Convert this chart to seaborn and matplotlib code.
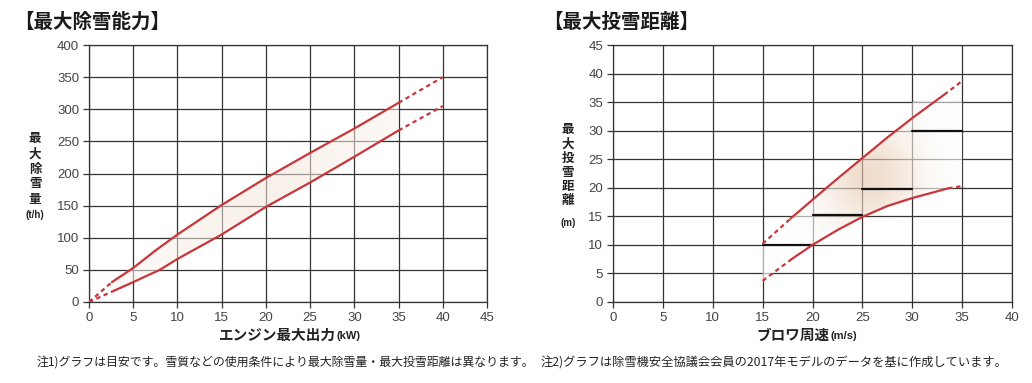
import numpy as np
import matplotlib
matplotlib.use("Agg")
import matplotlib.pyplot as plt
import seaborn as sns
from matplotlib.patches import Polygon

# ---------------- data ----------------
# left chart: max snow removal capacity (t/h) vs engine max output (kW)
power_upper = [0, 2.6, 5, 7.5, 10, 15, 20, 25, 30, 35, 40]
snow_upper = [0, 31, 53, 80, 105, 151, 193, 232, 270, 310, 350]
power_lower = [0, 2.9, 5, 8, 10, 15, 20, 25, 30, 35, 40]
snow_lower = [0, 18, 31, 50, 67, 105, 148, 186, 226, 267, 305]

# right chart: max throw distance (m) vs blower peripheral speed (m/s)
speed_upper = [15, 17.8, 20, 22.5, 25, 27.5, 30, 33.2, 35]
throw_upper = [10.2, 14.6, 17.9, 21.6, 25.2, 28.8, 32.2, 36.3, 38.7]
speed_lower = [15, 17.9, 20, 22.5, 25, 27.5, 30, 33.6, 35]
throw_lower = [3.7, 7.5, 10.0, 12.6, 14.9, 16.8, 18.2, 19.9, 20.3]

step_start = [15, 20, 25, 30]
step_end = [20, 25, 30, 35]
step_level = [10, 15.2, 19.8, 30]

left_xticks = list(range(0, 50, 5))
left_yticks = list(range(0, 450, 50))
right_xticks = list(range(0, 45, 5))
right_yticks = list(range(0, 50, 5))

left_title = "【最大除雪能力】"
right_title = "【最大投雪距離】"
left_ylabel = ["最", "大", "除", "雪", "量"]
left_yunit = "(t/h)"
right_ylabel = ["最", "大", "投", "雪", "距", "離"]
right_yunit = "(m)"
left_xlabel = ("エンジン最大出力", "(kW)")
right_xlabel = ("ブロワ周速", "(m/s)")
note1 = "注1)グラフは目安です。雪質などの使用条件により最大除雪量・最大投雪距離は異なります。"
note2 = "注2)グラフは除雪機安全協議会会員の2017年モデルのデータを基に作成しています。"

# ---------------- style ----------------
sns.set_theme(style="ticks")
CJK = ["Noto Sans CJK JP", "DejaVu Sans"]
NUM = ["Liberation Sans", "DejaVu Sans"]
plt.rcParams["font.family"] = NUM
RED = "#c8363b"
GRID = "#333333"
TICKC = "#444444"
PEACH = np.array([228, 194, 165]) / 255.0

W, H = 1032, 383
fig = plt.figure(figsize=(W / 100, H / 100), dpi=100)
fig.patch.set_facecolor("white")


def px(x, y):
    return x / W, 1 - y / H


def make_axes(left, right, top, bottom):
    l, b = left / W, 1 - bottom / H
    return fig.add_axes([l, b, (right - left) / W, (bottom - top) / H])


def style_axes(ax, xticks, yticks):
    ax.set_xlim(xticks[0], xticks[-1])
    ax.set_ylim(yticks[0], yticks[-1])
    ax.set_xticks(xticks)
    ax.set_yticks(yticks)
    ax.set_axisbelow(True)
    ax.grid(True, color=GRID, lw=0.9)
    for s in ax.spines.values():
        s.set_color(GRID)
        s.set_linewidth(0.9)
        s.set_visible(True)
    ax.tick_params(direction="out", length=4, width=0.9, color=GRID,
                   labelsize=9.5, labelcolor=TICKC, pad=3)
    ax.set_xlabel("")
    ax.set_ylabel("")
    ax.set_facecolor("white")


def glow(ax, poly_xy, center, width, base, peak, alpha, cy=None, hy=None):
    xl, yl = ax.get_xlim(), ax.get_ylim()
    gx = np.linspace(xl[0], xl[1], 500)
    gy = np.linspace(yl[0], yl[1], 300)
    X, Y = np.meshgrid(gx, gy)
    r2 = ((X - center) / width) ** 2
    if cy is not None:
        r2 = r2 + ((Y - cy) / hy) ** 2
    t = base + peak * np.exp(-r2)
    rgba = np.ones((300, 500, 4))
    for c in range(3):
        rgba[..., c] = 1 - (1 - PEACH[c]) * t
    rgba[..., 3] = alpha
    im = ax.imshow(rgba, extent=[xl[0], xl[1], yl[0], yl[1]], origin="lower",
                   aspect="auto", zorder=1.5, interpolation="bilinear")
    patch = Polygon(poly_xy, closed=True, transform=ax.transData,
                    facecolor="none", edgecolor="none")
    ax.add_patch(patch)
    im.set_clip_path(patch)
    ax.set_xlim(xl)
    ax.set_ylim(yl)


def curve(ax, xs, ys):
    kw = dict(ax=ax, color=RED, lw=1.6, estimator=None, sort=False, zorder=3)
    sns.lineplot(x=xs[:2], y=ys[:2], linestyle=(0, (2.0, 1.6)), **kw)
    sns.lineplot(x=xs[1:-1], y=ys[1:-1], **kw)
    sns.lineplot(x=xs[-2:], y=ys[-2:], linestyle=(0, (2.0, 1.6)), **kw)


# ---------------- left chart ----------------
axL = make_axes(89, 487, 45, 302)
style_axes(axL, left_xticks, left_yticks)
polyL = list(zip(power_upper[1:-1], snow_upper[1:-1])) + \
    list(zip(power_lower[1:-1], snow_lower[1:-1]))[::-1]
glow(axL, polyL, center=20, width=10, base=0.16, peak=0.24, alpha=0.55)
curve(axL, power_upper, snow_upper)
curve(axL, power_lower, snow_lower)

# ---------------- right chart ----------------
axR = make_axes(613, 1012, 45, 302)
style_axes(axR, right_xticks, right_yticks)
top_pts = [(x, y) for x, y in zip(speed_upper, throw_upper) if x <= 30]
polyR = top_pts + [(30, 35), (35, 35)] + \
    list(zip(speed_lower, throw_lower))[::-1]
glow(axR, polyR, center=25.8, width=4.6, base=0.0, peak=0.9, alpha=0.62,
     cy=22, hy=9)
for xs, xe, lv in zip(step_start, step_end, step_level):
    sns.lineplot(x=[xs, xe], y=[lv, lv], ax=axR, color="#111111", lw=1.6,
                 estimator=None, sort=False, zorder=2.8)
curve(axR, speed_upper, throw_upper)
curve(axR, speed_lower, throw_lower)

# ---------------- texts ----------------
fig.text(*px(14, 22), left_title, family=CJK, fontsize=14, fontweight="bold",
         ha="left", va="center", color="#1a1a1a")
fig.text(*px(543, 22), right_title, family=CJK, fontsize=14, fontweight="bold",
         ha="left", va="center", color="#1a1a1a")

for i, ch in enumerate(left_ylabel):
    fig.text(*px(35, 139 + 15 * i), ch, family=CJK, fontsize=9,
             fontweight="bold", ha="center", va="center", color="#222222")
fig.text(*px(35, 215), left_yunit, family=NUM, fontsize=7, fontweight="bold",
         ha="center", va="center", color="#222222")
for i, ch in enumerate(right_ylabel):
    fig.text(*px(568, 130 + 14.2 * i), ch, family=CJK, fontsize=9,
             fontweight="bold", ha="center", va="center", color="#222222")
fig.text(*px(568, 223), right_yunit, family=NUM, fontsize=7, fontweight="bold",
         ha="center", va="center", color="#222222")

renderer = fig.canvas.get_renderer()


def xlabel(center_px, parts):
    t1 = fig.text(0, 0, parts[0], family=CJK, fontsize=10.5, fontweight="bold",
                  ha="left", va="center", color="#222222")
    t2 = fig.text(0, 0, parts[1], family=NUM, fontsize=8, fontweight="bold",
                  ha="left", va="center", color="#222222")
    w1 = t1.get_window_extent(renderer).width
    w2 = t2.get_window_extent(renderer).width
    x0 = center_px - (w1 + w2) / 2
    t1.set_position(px(x0, 335))
    t2.set_position(px(x0 + w1 + 1, 336))


xlabel(289, left_xlabel)
xlabel(806, right_xlabel)

fig.text(*px(37, 362), note1, family=CJK, fontsize=8.6, ha="left", va="center",
         color="#222222")
fig.text(*px(541, 362), note2, family=CJK, fontsize=8.8, ha="left", va="center",
         color="#222222")

fig.savefig("out.png", dpi=100, facecolor="white")
